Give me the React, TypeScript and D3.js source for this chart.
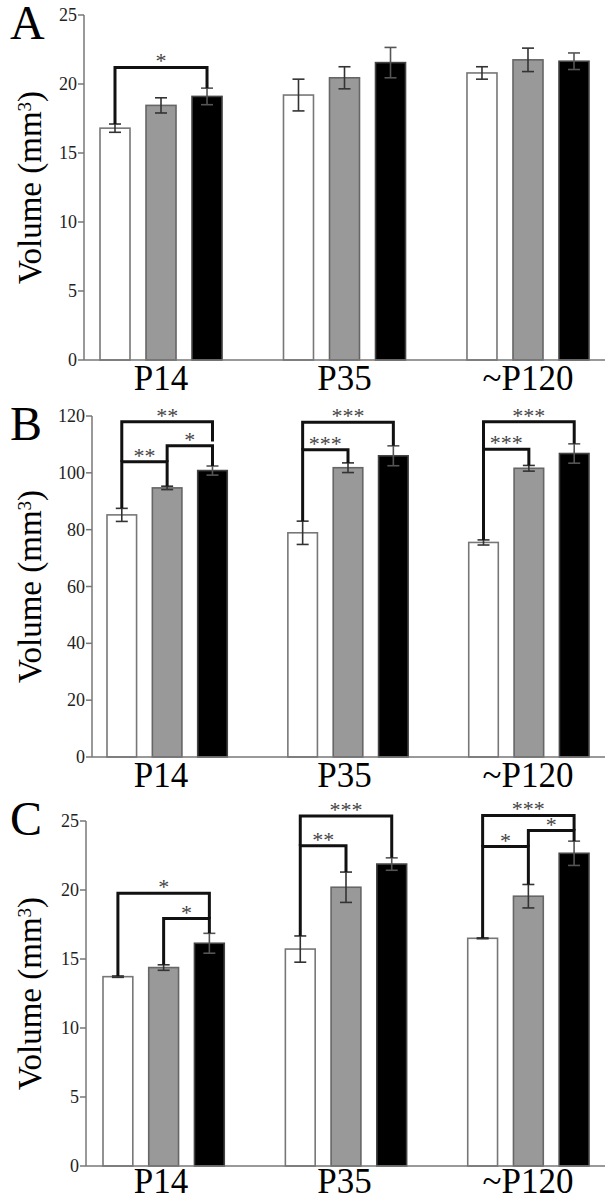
import React from "react";
import * as d3 from "d3";

// ---------- data ----------
const categories = ["P14", "P35", "~P120"];
const groups = ["g1", "g2", "g3"];
const panelLetters = ["A", "B", "C"];

const meansA = [[16.8, 18.45, 19.1], [19.2, 20.45, 21.55], [20.8, 21.75, 21.65]];
const errA = [[0.3, 0.55, 0.6], [1.15, 0.8, 1.1], [0.45, 0.85, 0.6]];
const ticksA = [0, 5, 10, 15, 20, 25];
const domainA = [0, 25];

const meansB = [[85.2, 94.7, 100.8], [78.9, 101.8, 106], [75.5, 101.6, 106.8]];
const errB = [[2.3, 0.6, 1.6], [4.1, 1.7, 3.5], [0.9, 1.0, 3.4]];
const ticksB = [0, 20, 40, 60, 80, 100, 120];
const domainB = [0, 120];

const meansC = [[13.72, 14.38, 16.14], [15.72, 20.2, 21.88], [16.5, 19.55, 22.66]];
const errC = [[0.05, 0.2, 0.72], [0.95, 1.1, 0.45], [0.03, 0.85, 0.88]];
const ticksC = [0, 5, 10, 15, 20, 25];
const domainC = [0, 25];

// brackets: category index, from bar, to bar, level (value), label,
// left/right end value (null = top of error bar)
type Bracket = { cat: number; from: number; to: number; level: number; label: string; leftTo: number | null; rightTo: number | null };
const bracketsA: Bracket[] = [
  { cat: 0, from: 0, to: 2, level: 21.2, label: "*", leftTo: null, rightTo: null },
];
const bracketsB: Bracket[] = [
  { cat: 0, from: 0, to: 1, level: 103.9, label: "**", leftTo: null, rightTo: null },
  { cat: 0, from: 1, to: 2, level: 109.5, label: "*", leftTo: 103.9, rightTo: null },
  { cat: 0, from: 0, to: 2, level: 118, label: "**", leftTo: 103.9, rightTo: 111 },
  { cat: 1, from: 0, to: 1, level: 108.1, label: "***", leftTo: null, rightTo: null },
  { cat: 1, from: 0, to: 2, level: 117.8, label: "***", leftTo: 108.1, rightTo: null },
  { cat: 2, from: 0, to: 1, level: 108.3, label: "***", leftTo: null, rightTo: null },
  { cat: 2, from: 0, to: 2, level: 118, label: "***", leftTo: 108.3, rightTo: null },
];
const bracketsC: Bracket[] = [
  { cat: 0, from: 1, to: 2, level: 17.93, label: "*", leftTo: null, rightTo: null },
  { cat: 0, from: 0, to: 2, level: 19.76, label: "*", leftTo: null, rightTo: 17.93 },
  { cat: 1, from: 0, to: 1, level: 23.2, label: "**", leftTo: null, rightTo: null },
  { cat: 1, from: 0, to: 2, level: 25.36, label: "***", leftTo: 23.2, rightTo: null },
  { cat: 2, from: 0, to: 1, level: 23.15, label: "*", leftTo: null, rightTo: null },
  { cat: 2, from: 1, to: 2, level: 24.31, label: "*", leftTo: 23.15, rightTo: null },
  { cat: 2, from: 0, to: 2, level: 25.4, label: "***", leftTo: 23.15, rightTo: 24.31 },
];

// ---------- layout / style ----------
const W = 615;
const H = 1199;
const FONT = "Liberation Serif";
const barEnd = 589;
const axisEnd = 605;
const fills = ["#ffffff", "#999999", "#000000"];
const strokes = ["#777777", "#666666", "#444444"];

const panels = [
  { means: meansA, errs: errA, ticks: ticksA, domain: domainA, brackets: bracketsA, axisX: 84, barStart: 100, yTop: 15, yBottom: 360, letterY: 39, labelY: 390 },
  { means: meansB, errs: errB, ticks: ticksB, domain: domainB, brackets: bracketsB, axisX: 92, barStart: 107, yTop: 416, yBottom: 757, letterY: 440, labelY: 787 },
  { means: meansC, errs: errC, ticks: ticksC, domain: domainC, brackets: bracketsC, axisX: 86, barStart: 103, yTop: 821, yBottom: 1166, letterY: 835, labelY: 1193 },
];

const labelScale = d3.scaleBand<string>().domain(categories).range([100, barEnd]).paddingInner(0.335).paddingOuter(0);

function Panel({ p, idx }: { p: (typeof panels)[number]; idx: number }) {
  const y = d3.scaleLinear().domain(p.domain).range([p.yBottom, p.yTop]);
  const x0 = d3.scaleBand<string>().domain(categories).range([p.barStart, barEnd]).paddingInner(0.335).paddingOuter(0);
  const x1 = d3.scaleBand<string>().domain(groups).range([0, x0.bandwidth()]).paddingInner(0.348).paddingOuter(0);
  const cx = (c: number, g: number) => (x0(categories[c]) as number) + (x1(groups[g]) as number) + x1.bandwidth() / 2;
  const capW = 6;
  const midY = (p.yTop + p.yBottom) / 2;
  return (
    <g>
      <text x={10} y={p.letterY} fontFamily={FONT} fontSize={48} fill="#000">{panelLetters[idx]}</text>
      <text transform={`translate(41,${midY}) rotate(-90)`} textAnchor="middle" fontFamily={FONT} fontSize={33} fill="#000">
        Volume (mm<tspan baselineShift="super" fontSize={19}>3</tspan>)
      </text>
      {categories.map((c, ci) =>
        groups.map((g, gi) => {
          const v = p.means[ci][gi];
          const bx = (x0(c) as number) + (x1(g) as number);
          return (
            <rect key={`b${ci}${gi}`} x={bx} y={y(v)} width={x1.bandwidth()} height={y(0) - y(v)} fill={fills[gi]} stroke={strokes[gi]} strokeWidth={1.6} />
          );
        })
      )}
      {categories.map((c, ci) =>
        groups.map((g, gi) => {
          const v = p.means[ci][gi];
          const e = p.errs[ci][gi];
          const xc = cx(ci, gi);
          const col = gi === 2 ? "#555" : "#333";
          return (
            <g key={`e${ci}${gi}`} stroke={col} strokeWidth={1.6}>
              <line x1={xc} x2={xc} y1={y(v - e)} y2={y(v + e)} />
              <line x1={xc - capW} x2={xc + capW} y1={y(v - e)} y2={y(v - e)} />
              <line x1={xc - capW} x2={xc + capW} y1={y(v + e)} y2={y(v + e)} />
            </g>
          );
        })
      )}
      {p.brackets.map((b, bi) => {
        const xl = cx(b.cat, b.from);
        const xr = cx(b.cat, b.to);
        const yl = b.leftTo === null ? y(p.means[b.cat][b.from] + p.errs[b.cat][b.from]) : y(b.leftTo);
        const yr = b.rightTo === null ? y(p.means[b.cat][b.to] + p.errs[b.cat][b.to]) : y(b.rightTo);
        const yt = y(b.level);
        return (
          <g key={`k${bi}`}>
            <path d={`M${xl},${yl}V${yt}H${xr}V${yr}`} fill="none" stroke="#111" strokeWidth={3} strokeLinejoin="miter" />
            <text x={(xl + xr) / 2} y={yt + 1} textAnchor="middle" fontFamily={FONT} fontSize={22} fill="#444">{b.label}</text>
          </g>
        );
      })}
      <line x1={p.axisX} x2={p.axisX} y1={p.yTop} y2={p.yBottom} stroke="#777" strokeWidth={1.5} />
      <line x1={p.axisX} x2={axisEnd} y1={p.yBottom} y2={p.yBottom} stroke="#777" strokeWidth={1.5} />
      {p.ticks.map((t) => (
        <g key={`t${t}`}>
          <line x1={p.axisX - 6} x2={p.axisX} y1={y(t)} y2={y(t)} stroke="#777" strokeWidth={1.5} />
          <text x={p.axisX - 7} y={y(t)} dy="0.34em" textAnchor="end" fontFamily={FONT} fontSize={18} fill="#222">{t}</text>
        </g>
      ))}
      {categories.map((c) => (
        <text key={`c${c}`} x={(labelScale(c) as number) + labelScale.bandwidth() / 2} y={p.labelY} textAnchor="middle" fontFamily={FONT} fontSize={35} fill="#000">{c}</text>
      ))}
    </g>
  );
}

export default function App() {
  return (
    <div>
      <svg width={W} height={H} viewBox={`0 0 ${W} ${H}`} style={{ position: "absolute", left: 0, top: 0, background: "#fff" }}>
        <rect x={0} y={0} width={W} height={H} fill="#fff" />
        <g fontFamily={FONT}>
          {panels.map((p, i) => (
            <Panel key={i} p={p} idx={i} />
          ))}
        </g>
      </svg>
    </div>
  );
}
